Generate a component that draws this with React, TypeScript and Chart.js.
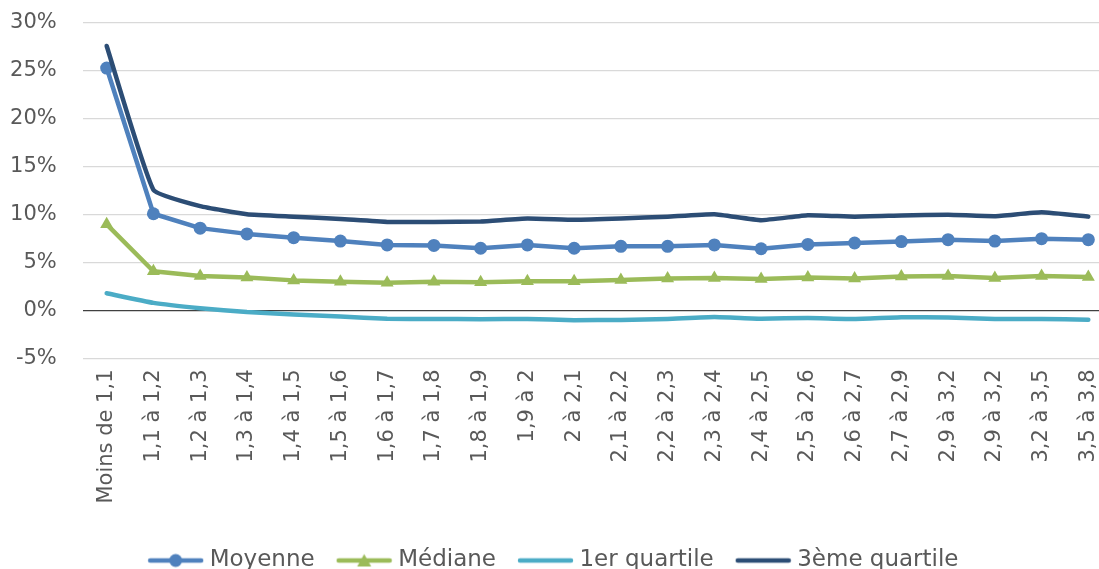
import React, { useEffect, useRef } from "react";
import { Chart, registerables } from "chart.js";

Chart.register(...registerables);

const categories = [
  "Moins de 1,1", "1,1 à 1,2", "1,2 à 1,3", "1,3 à 1,4", "1,4 à 1,5", "1,5 à 1,6",
  "1,6 à 1,7", "1,7 à 1,8", "1,8 à 1,9", "1,9 à 2", "2 à 2,1", "2,1 à 2,2",
  "2,2 à 2,3", "2,3 à 2,4", "2,4 à 2,5", "2,5 à 2,6", "2,6 à 2,7", "2,7 à 2,9",
  "2,9 à 3,2", "2,9 à 3,2", "3,2 à 3,5", "3,5 à 3,8",
];

const moyenne = [25.3, 10.1, 8.6, 8.0, 7.6, 7.25, 6.85, 6.8, 6.5, 6.85, 6.5, 6.7, 6.7, 6.85, 6.45, 6.9, 7.05, 7.2, 7.4, 7.25, 7.5, 7.4];
const mediane = [9.0, 4.1, 3.6, 3.45, 3.15, 3.0, 2.9, 3.0, 2.95, 3.05, 3.05, 3.2, 3.35, 3.4, 3.3, 3.45, 3.35, 3.55, 3.6, 3.4, 3.6, 3.5];
const premierQuartile = [1.8, 0.8, 0.25, -0.15, -0.42, -0.63, -0.85, -0.88, -0.9, -0.88, -1.0, -0.98, -0.88, -0.68, -0.85, -0.77, -0.88, -0.7, -0.73, -0.88, -0.88, -0.95];
const troisiemeQuartile = [27.6, 12.6, 10.9, 10.05, 9.8, 9.55, 9.25, 9.25, 9.3, 9.6, 9.47, 9.6, 9.8, 10.05, 9.43, 9.95, 9.8, 9.92, 10.0, 9.85, 10.25, 9.8];

const seriesNames = ["Moyenne", "Médiane", "1er quartile", "3ème quartile"];
const seriesColors = ["#4F81BD", "#9BBB59", "#4BACC6", "#2C4D75"];
const seriesMarkers = ["circle", "triangle", "none", "none"];

const yTicks = { min: -5, max: 30, step: 5 };

const W = 1130;
const H = 582;
const FONT = "'DejaVu Sans', sans-serif";

function legendImage(color: string, marker: string): HTMLCanvasElement {
  const c = document.createElement("canvas");
  c.width = 57;
  c.height = 16;
  const ctx = c.getContext("2d")!;
  ctx.strokeStyle = color;
  ctx.fillStyle = color;
  ctx.lineWidth = 4.5;
  ctx.lineCap = "round";
  ctx.beginPath();
  ctx.moveTo(3, 8);
  ctx.lineTo(54, 8);
  ctx.stroke();
  if (marker === "circle") {
    ctx.beginPath();
    ctx.arc(28.5, 8, 6.5, 0, Math.PI * 2);
    ctx.fill();
  } else if (marker === "triangle") {
    ctx.beginPath();
    ctx.moveTo(28.5, 1.5);
    ctx.lineTo(35.5, 14);
    ctx.lineTo(21.5, 14);
    ctx.closePath();
    ctx.fill();
  }
  return c;
}

export default function App() {
  const ref = useRef<HTMLCanvasElement | null>(null);

  useEffect(() => {
    if (!ref.current) return;
    const values = [moyenne, mediane, premierQuartile, troisiemeQuartile];
    const images = seriesNames.map((_, i) => legendImage(seriesColors[i], seriesMarkers[i]));
    const datasets = seriesNames.map((name, i) => ({
      label: name,
      data: values[i],
      borderColor: seriesColors[i],
      backgroundColor: seriesColors[i],
      borderWidth: 4.5,
      pointStyle: seriesMarkers[i] === "none" ? "circle" : seriesMarkers[i],
      pointRadius: seriesMarkers[i] === "none" ? 0 : seriesMarkers[i] === "triangle" ? 7.5 : 6.5,
      pointBorderWidth: 0,
      pointHoverRadius: 0,
      tension: seriesMarkers[i] === "none" ? 0.12 : 0,
      borderCapStyle: "round" as const,
      borderJoinStyle: "round" as const,
      order: 3 - i,
    }));

    const chart = new Chart(ref.current, {
      type: "line",
      data: { labels: categories, datasets },
      options: {
        responsive: false,
        animation: false,
        events: [],
        layout: { padding: { top: 23, left: 0, right: W - 1111.7, bottom: 0 } },
        font: { family: FONT },
        scales: {
          x: {
            type: "category",
            offset: true,
            grid: { display: false, drawTicks: false },
            border: { display: false },
            ticks: {
              autoSkip: false,
              minRotation: 90,
              maxRotation: 90,
              padding: 11,
              color: "#595959",
              font: { family: FONT, size: 21 },
            },
            afterFit: (scale: any) => {
              scale.height = 163.5;
            },
          },
          y: {
            min: yTicks.min,
            max: yTicks.max,
            border: { display: false },
            grid: {
              drawTicks: true,
              tickLength: 23.5,
              tickColor: "rgba(0,0,0,0)",
              lineWidth: 1.3,
              color: (ctx: any) => (ctx.tick && ctx.tick.value === 0 ? "#404040" : "#D9D9D9"),
            },
            ticks: {
              stepSize: yTicks.step,
              padding: 3,
              color: "#595959",
              font: { family: FONT, size: 21 },
              callback: (v: any) => `${v}%`,
            },
            afterFit: (scale: any) => {
              scale.width = 83.3;
            },
          },
        },
        plugins: {
          tooltip: { enabled: false },
          legend: {
            position: "bottom",
            labels: {
              usePointStyle: true,
              pointStyleWidth: 45,
              padding: 27,
              color: "#595959",
              font: { family: FONT, size: 23 },
              generateLabels: (ch: any) => {
                const base = Chart.defaults.plugins.legend.labels.generateLabels(ch);
                return base
                  .sort((a: any, b: any) => a.datasetIndex - b.datasetIndex)
                  .map((item: any) => ({ ...item, pointStyle: images[item.datasetIndex] }));
              },
            },
          },
        },
      },
    } as any);
    return () => chart.destroy();
  }, []);

  return (
    <div style={{ position: "absolute", left: 0, top: 0, width: 1099, height: 569, overflow: "hidden", background: "#fff" }}>
      <canvas ref={ref} width={W} height={H} style={{ width: W, height: H, display: "block" }} />
    </div>
  );
}
